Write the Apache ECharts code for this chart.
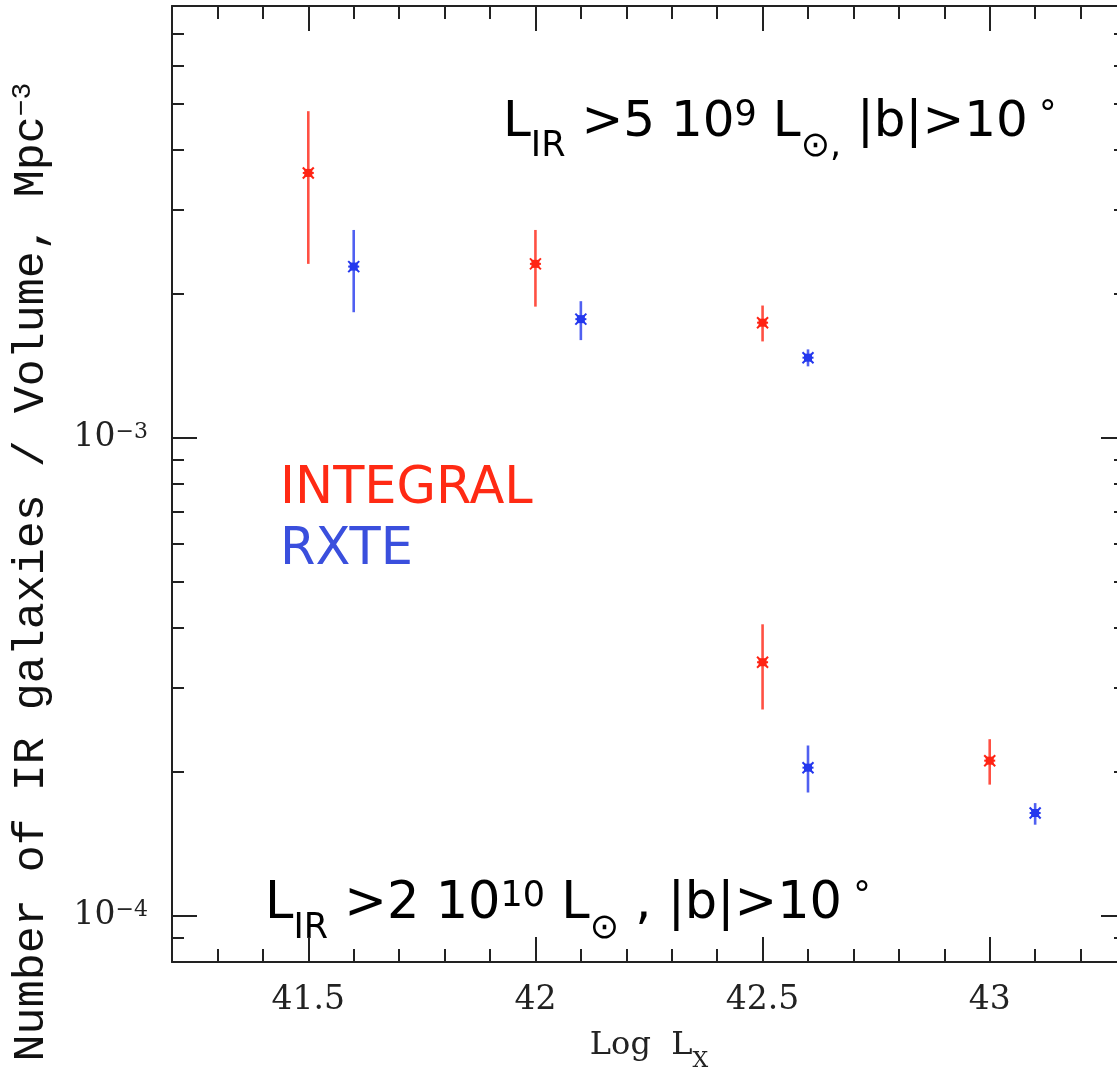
<!DOCTYPE html>
<html><head><meta charset="utf-8">
<script src="https://cdn.jsdelivr.net/npm/echarts@6/dist/echarts.min.js"></script>
<style>html,body{margin:0;padding:0;overflow:hidden;background:#fff}#c{width:1140px;height:1069px}</style>
</head><body><div id="c"></div>
<script>
// ---- data ----
const xRange = [41.2, 43.3];
const yRange = [8e-5, 8e-3];
const xMinorStep = 0.1;
const xMajorTicks = [41.5, 42, 42.5, 43];
const yMajorTicks = [1e-4, 1e-3];
const yMinorTicks = [9e-5, 2e-4, 3e-4, 4e-4, 5e-4, 6e-4, 7e-4, 8e-4, 9e-4, 2e-3, 3e-3, 4e-3, 5e-3, 6e-3, 7e-3, 8e-3];

const integralX    = [41.5, 42.0, 42.5, 42.5, 43.0];
const integralY    = [3.58e-3, 2.31e-3, 1.74e-3, 3.39e-4, 2.11e-4];
const integralLow  = [2.31e-3, 1.88e-3, 1.59e-3, 2.70e-4, 1.88e-4];
const integralHigh = [4.82e-3, 2.72e-3, 1.89e-3, 4.07e-4, 2.34e-4];

const rxteX    = [41.6, 42.1, 42.6, 42.6, 43.1];
const rxteY    = [2.28e-3, 1.77e-3, 1.47e-3, 2.04e-4, 1.64e-4];
const rxteLow  = [1.83e-3, 1.60e-3, 1.41e-3, 1.81e-4, 1.55e-4];
const rxteHigh = [2.72e-3, 1.93e-3, 1.53e-3, 2.27e-4, 1.72e-4];

const RED = '#ff2414';
const BLUE = '#2438ee';
const AXIS = '#222222';
const MONO = '"Liberation Mono", monospace';
const SERIF = '"DejaVu Serif", serif';
const SANS = '"DejaVu Sans", sans-serif';

function rows(xs, ys, lo, hi) { return xs.map((x, i) => [x, ys[i], lo[i], hi[i]]); }

function errRender(color) {
  return function (params, api) {
    const x = api.value(0), y = api.value(1), lo = api.value(2), hi = api.value(3);
    const c = api.coord([x, y]), l = api.coord([x, lo]), h = api.coord([x, hi]);
    const s = 5.5;
    return {
      type: 'group', children: [
        { type: 'line', shape: { x1: l[0], y1: l[1], x2: h[0], y2: h[1] }, style: { stroke: color, lineWidth: 2.6, opacity: 0.8 } },
        { type: 'line', shape: { x1: c[0] - s, y1: c[1] - s, x2: c[0] + s, y2: c[1] + s }, style: { stroke: color, lineWidth: 2 } },
        { type: 'line', shape: { x1: c[0] - s, y1: c[1] + s, x2: c[0] + s, y2: c[1] - s }, style: { stroke: color, lineWidth: 2 } },
        { type: 'line', shape: { x1: c[0] - s, y1: c[1], x2: c[0] + s, y2: c[1] }, style: { stroke: color, lineWidth: 2 } },
        { type: 'rect', shape: { x: c[0] - 4, y: c[1] - 4, width: 8, height: 8 }, style: { fill: color } }
      ]
    };
  };
}

function xAx(pos, major, showLine) {
  const a = {
    type: 'value', position: pos, min: xRange[0], max: xRange[1],
    axisLine: { show: showLine, onZero: false, lineStyle: { color: AXIS, width: 2 } },
    splitLine: { show: false },
    axisTick: { show: true, inside: true, length: major ? 25 : 13, lineStyle: { color: AXIS, width: 2 } },
    axisLabel: { show: false }
  };
  if (major) {
    a.axisTick.customValues = xMajorTicks;
    if (pos === 'bottom') {
      a.axisLabel = { show: true, customValues: xMajorTicks, margin: 22, color: '#222', fontFamily: SERIF, fontSize: 33,
        formatter: v => String(v) };
      a.name = 'Log  L{sub|X}';
      a.nameLocation = 'middle';
      a.nameGap = 68;
      a.nameTextStyle = { color: '#222', fontFamily: SERIF, fontSize: 32, rich: { sub: { fontFamily: SERIF, fontSize: 22, verticalAlign: 'bottom', lineHeight: 24, padding: [0, 0, -10, 0] } } };
    }
  } else {
    a.interval = xMinorStep;
  }
  return a;
}

function yAx(pos, major, showLine) {
  const a = {
    type: 'log', logBase: 10, position: pos, min: yRange[0], max: yRange[1],
    axisLine: { show: showLine, onZero: false, lineStyle: { color: AXIS, width: 2 } },
    splitLine: { show: false },
    minorTick: { show: false },
    axisTick: { show: true, inside: true, length: major ? 25 : 12, customValues: major ? yMajorTicks : yMinorTicks, lineStyle: { color: AXIS, width: 2 } },
    axisLabel: { show: false }
  };
  if (major && pos === 'left') {
    a.axisLabel = {
      show: true, customValues: yMajorTicks, margin: 24, color: '#222', fontFamily: SERIF, fontSize: 33,
      formatter: v => '10{sup|' + '\u2212' + Math.abs(Math.round(Math.log10(v))) + '}',
      rich: { sup: { fontFamily: SERIF, fontSize: 22, verticalAlign: 'top', lineHeight: 22, padding: [0, 0, 14, 0] } }
    };
  }
  return a;
}

const chart = echarts.init(document.getElementById('c'), null, { renderer: 'canvas' });
chart.setOption({
  backgroundColor: '#ffffff',
  animation: false,
  grid: { left: 172, top: 6, width: 954, height: 956, containLabel: false, outerBoundsMode: 'none' },
  xAxis: [xAx('bottom', false, true), xAx('bottom', true, false), xAx('top', false, true), xAx('top', true, false)],
  yAxis: [yAx('left', false, true), yAx('left', true, false), yAx('right', false, true), yAx('right', true, false)],
  series: [
    { name: 'INTEGRAL', type: 'custom', xAxisIndex: 0, yAxisIndex: 0, encode: { x: 0, y: 1 }, renderItem: errRender(RED), data: rows(integralX, integralY, integralLow, integralHigh) },
    { name: 'RXTE', type: 'custom', xAxisIndex: 0, yAxisIndex: 0, encode: { x: 0, y: 1 }, renderItem: errRender(BLUE), data: rows(rxteX, rxteY, rxteLow, rxteHigh) }
  ],
  graphic: [
    { type: 'text', x: 31, y: 572, rotation: Math.PI / 2,
      style: { text: 'Number of IR galaxies / Volume, Mpc{sup|\u22123}', fill: '#111', fontFamily: MONO, fontSize: 45, align: 'center', verticalAlign: 'middle',
        rich: { sup: { fontFamily: MONO, fontSize: 28, verticalAlign: 'top', lineHeight: 26, padding: [0, 0, 14, 0], fill: '#111' } } } },
    { type: 'text', x: 503, y: 123,
      style: { text: 'L{sub|IR} >5 10{sup|9} L{sub|\u2299,} |b|>10{sup| \u00b0}', fill: '#000', fontFamily: SANS, fontSize: 50, verticalAlign: 'middle',
        rich: { sub: { fontFamily: SANS, fontSize: 35, verticalAlign: 'bottom', lineHeight: 34, padding: [0, 0, -16, 0], fill: '#000' },
                sup: { fontFamily: SANS, fontSize: 35, verticalAlign: 'top', lineHeight: 34, padding: [0, 0, 12, 0], fill: '#000' } } } },
    { type: 'text', x: 265, y: 905,
      style: { text: 'L{sub|IR} >2 10{sup|10} L{sub|\u2299} , |b|>10{sup| \u00b0}', fill: '#000', fontFamily: SANS, fontSize: 51, verticalAlign: 'middle',
        rich: { sub: { fontFamily: SANS, fontSize: 35, verticalAlign: 'bottom', lineHeight: 34, padding: [0, 0, -16, 0], fill: '#000' },
                sup: { fontFamily: SANS, fontSize: 35, verticalAlign: 'top', lineHeight: 34, padding: [0, 0, 12, 0], fill: '#000' } } } },
    { type: 'text', x: 280, y: 490, style: { text: 'INTEGRAL', fill: '#ff2a14', fontFamily: SANS, fontSize: 51, verticalAlign: 'middle' } },
    { type: 'text', x: 280, y: 551, style: { text: 'RXTE', fill: '#3a4fdd', fontFamily: SANS, fontSize: 51, verticalAlign: 'middle' } }
  ]
});
</script></body></html>
